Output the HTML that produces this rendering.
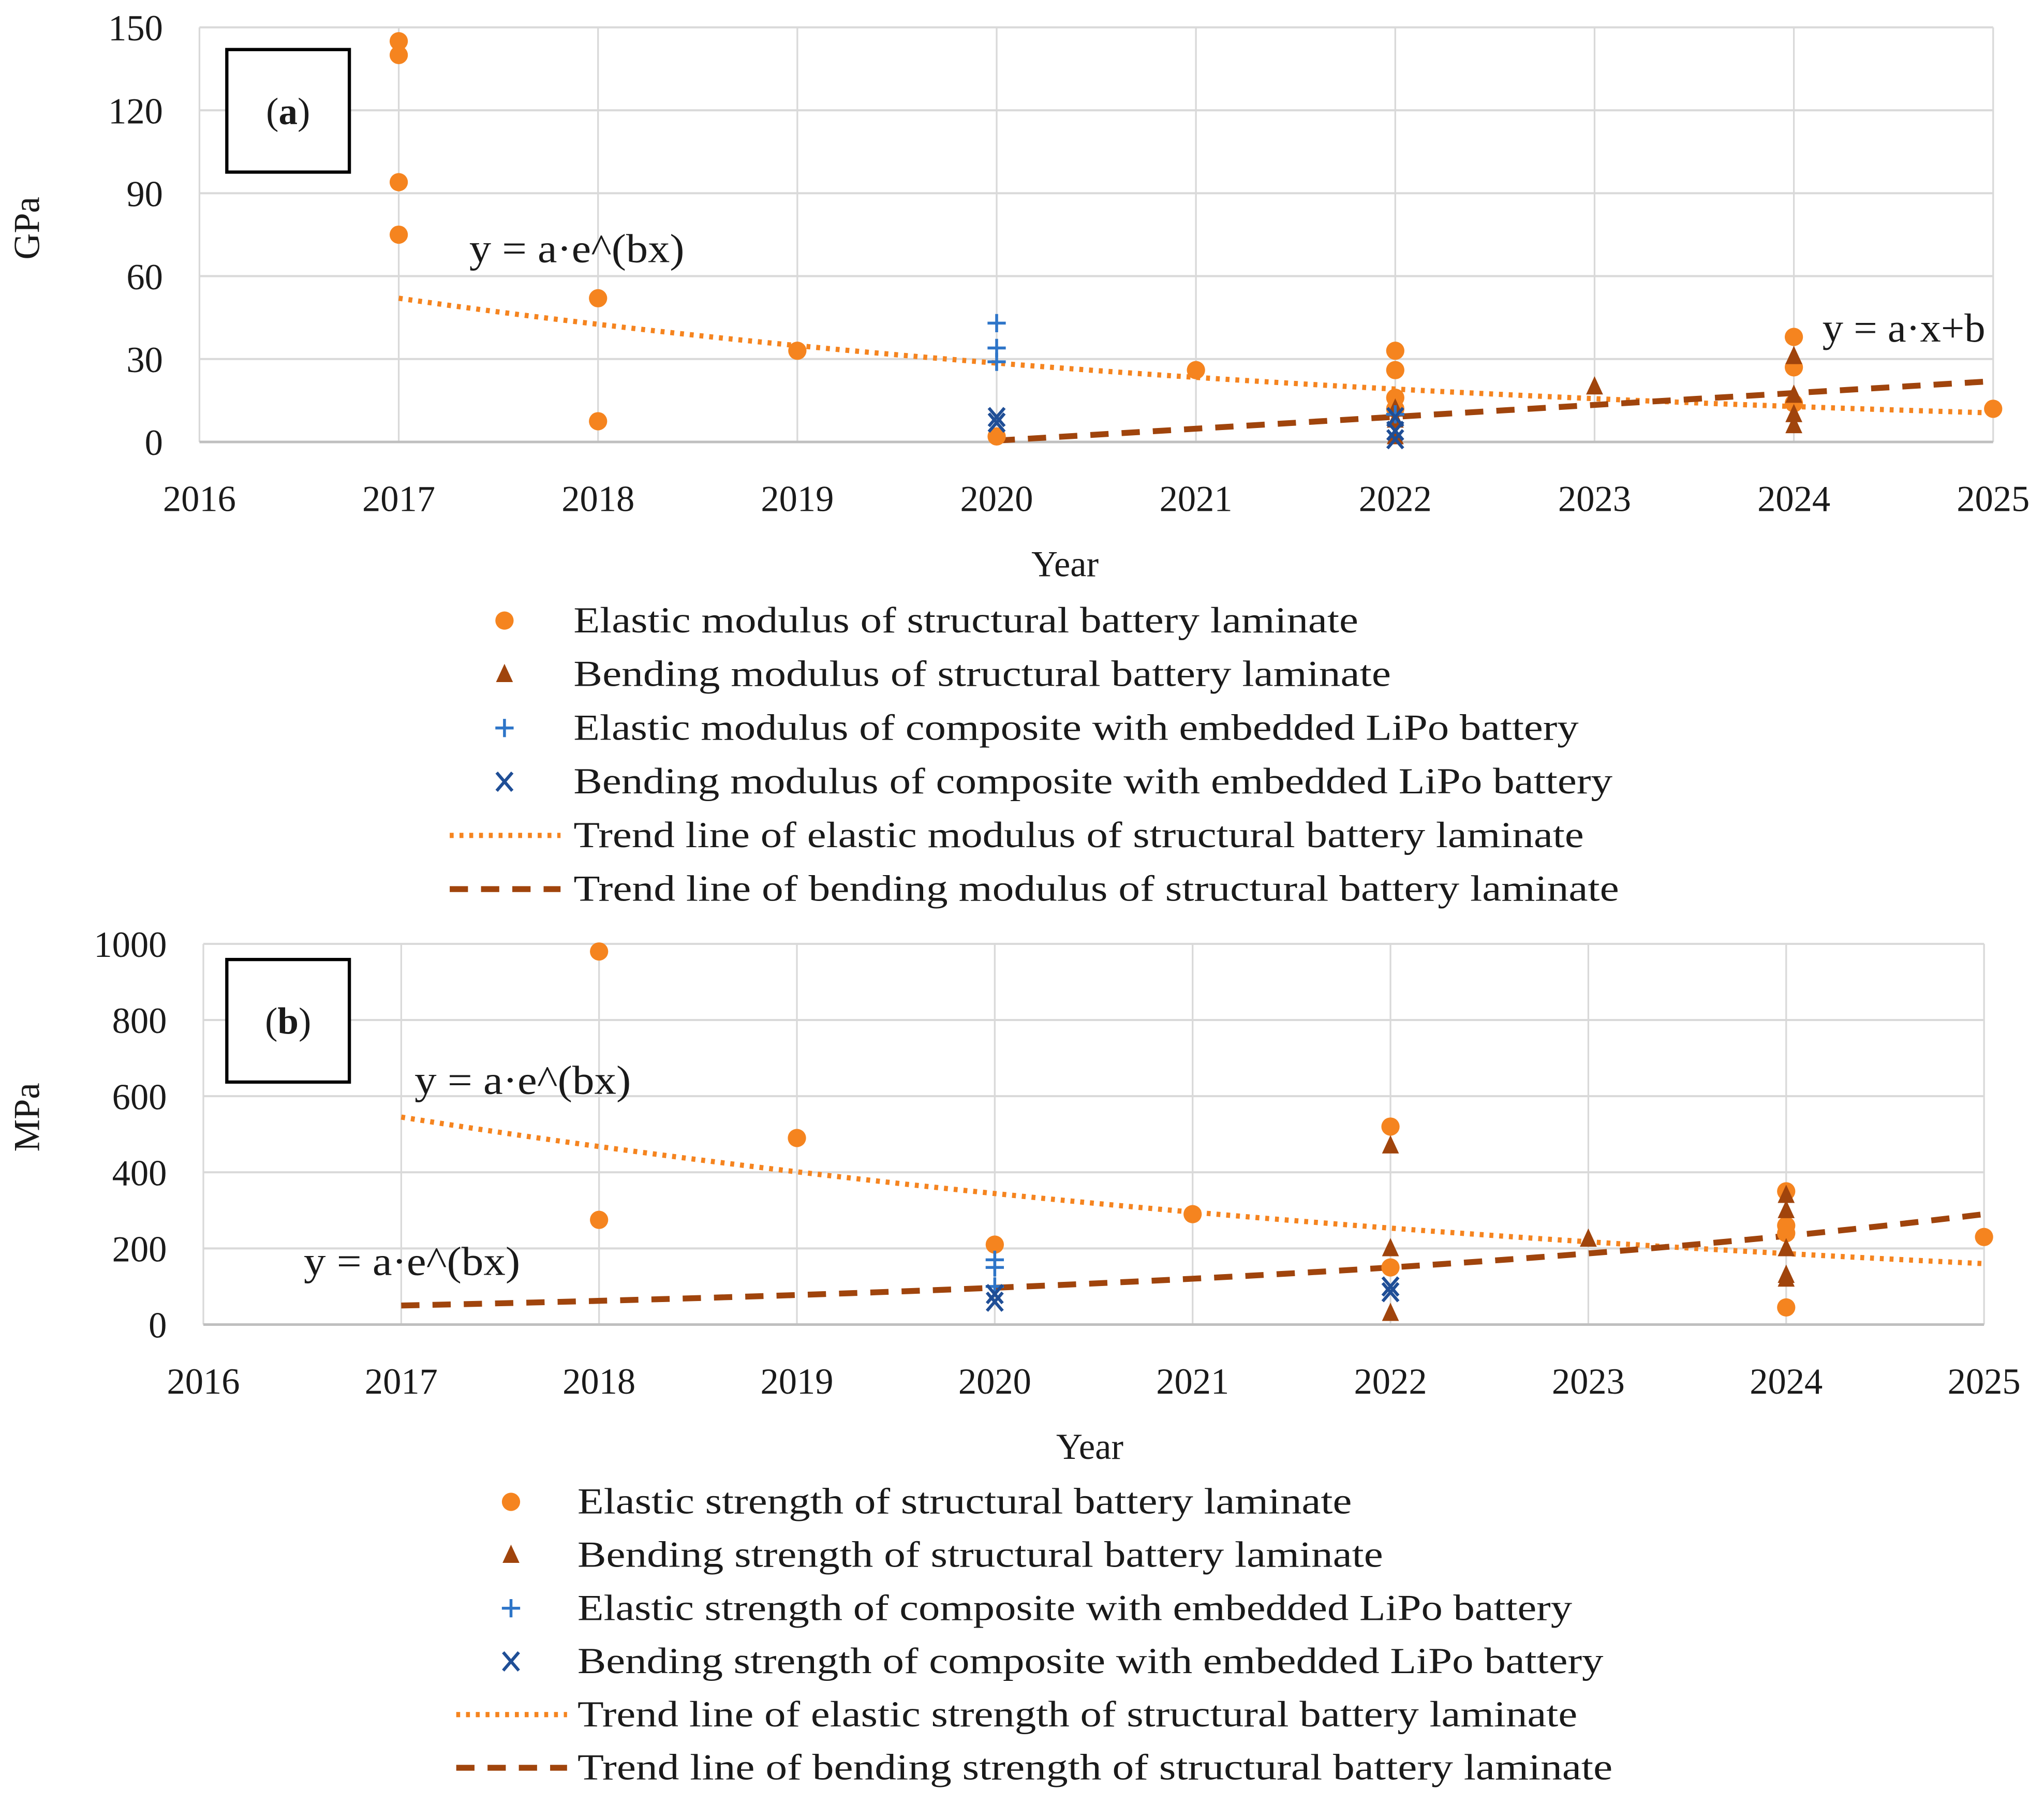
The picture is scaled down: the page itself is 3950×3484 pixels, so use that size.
<!DOCTYPE html>
<html><head><meta charset="utf-8"><style>
html,body{margin:0;padding:0;background:#fff;}
svg{display:block;}
text{font-family:"Liberation Serif",serif;fill:#1a1a1a;}
</style></head><body>
<svg id="fig" width="3950" height="3484" viewBox="0 0 1568 1383" xmlns="http://www.w3.org/2000/svg">
<g id="chartA"></g>
<g id="chartB"></g>
</svg>
<script>
const NS="http://www.w3.org/2000/svg";
const years=[2016,2017,2018,2019,2020,2021,2022,2023,2024,2025];
// Chart (a) data, GPa
const aTicks=[0,30,60,90,120,150];
const aElasticX=[2017,2017,2017,2017,2018,2018,2019,2020,2021,2022,2022,2022,2022,2024,2024,2024,2025];
const aElasticY=[145,140,94,75,52,7.5,33,2,26,33,26,16,12,38,27,14,12];
const aBendX=[2022,2022,2022,2023,2024,2024,2024,2024];
const aBendY=[12,8,2,20,31,17,10,6];
const aPlusX=[2020,2020,2020,2022];
const aPlusY=[43,34,29,10];
const aCrossX=[2020,2020,2022,2022,2022];
const aCrossY=[9,7,9,4,1];
const aTrendE={x0:2017,x1:2025,y0:52,y1:10.5};
const aTrendB={x0:2020,x1:2025,y0:0.5,y1:22};
// Chart (b) data, MPa
const bTicks=[0,200,400,600,800,1000];
const bElasticX=[2018,2018,2019,2020,2021,2022,2022,2024,2024,2024,2024,2025];
const bElasticY=[980,275,490,210,290,520,150,350,260,240,45,230];
const bBendX=[2022,2022,2022,2023,2024,2024,2024,2024,2024];
const bBendY=[470,200,30,225,340,300,200,130,120];
const bPlusX=[2020,2020,2020];
const bPlusY=[170,150,100];
const bCrossX=[2020,2020,2022,2022];
const bCrossY=[80,60,100,85];
const bTrendE={x0:2017,x1:2025,y0:545,y1:160};
const bTrendB={x0:2017,x1:2025,y0:50,y1:290};

const OR="#F5841F",BR="#A0440C",BL="#2E75C8",NV="#1F4E96";
function el(tag,attrs,parent,txt){const e=document.createElementNS(NS,tag);for(const k in attrs)e.setAttribute(k,attrs[k]);if(txt!==undefined)e.textContent=txt;parent.appendChild(e);return e;}
function circle(g,x,y){const c=el('circle',{cx:x,cy:y,r:7,fill:OR},g);}
function tri(g,x,y){const p=el('path',{d:`M${x},${y-8} L${x+6.5},${y+6} L${x-6.5},${y+6}Z`,fill:BR},g);}
function plus(g,x,y){const p=el('path',{d:`M${x-7},${y}H${x+7}M${x},${y-7}V${y+7}`,stroke:BL,'stroke-width':2.2,fill:'none'},g);}
function cross(g,x,y){const p=el('path',{d:`M${x-6},${y-7}L${x+6},${y+7}M${x+6},${y-7}L${x-6},${y+7}`,stroke:NV,'stroke-width':2.4,fill:'none'},g);}

function chart(g,cfg){
  const X=v=>cfg.x0+(v-2016)/9*(cfg.x1-cfg.x0);
  const Y=v=>cfg.yb-(v/cfg.ymax)*(cfg.yb-cfg.yt);
  years.forEach(yr=>{const l=el('line',{x1:X(yr),x2:X(yr),y1:cfg.yt,y2:cfg.yb,stroke:'#d9d9d9','stroke-width':1.3},g);
    const t=el('text',{x:X(yr),y:cfg.yb+53,'text-anchor':'middle','font-size':28},g,String(yr));});
  cfg.ticks.forEach(v=>{const l=el('line',{x1:cfg.x0,x2:cfg.x1,y1:Y(v),y2:Y(v),stroke:v===0?'#bfbfbf':'#d9d9d9','stroke-width':v===0?2:1.6},g);
    const t=el('text',{x:cfg.x0-28,y:Y(v)+10,'text-anchor':'end','font-size':28},g,String(v));});
  const te=cfg.te, n=60; let d='';
  const b=Math.log(te.y1/te.y0)/(te.x1-te.x0);
  for(let i=0;i<=n;i++){const xv=te.x0+(te.x1-te.x0)*i/n;const yv=te.y0*Math.exp(b*(xv-te.x0));d+=(i?'L':'M')+X(xv)+','+Y(yv);}
  const p1=el('path',{d,stroke:OR,'stroke-width':4,fill:'none','stroke-dasharray':'3 4.5'},g);
  const tb=cfg.tb; let d2='';
  if(cfg.bexp){const bb=Math.log(tb.y1/tb.y0)/(tb.x1-tb.x0);for(let i=0;i<=n;i++){const xv=tb.x0+(tb.x1-tb.x0)*i/n;d2+=(i?'L':'M')+X(xv)+','+Y(tb.y0*Math.exp(bb*(xv-tb.x0)));}}
  else d2=`M${X(tb.x0)},${Y(tb.y0)}L${X(tb.x1)},${Y(tb.y1)}`;
  const p2=el('path',{d:d2,stroke:BR,'stroke-width':4.5,fill:'none','stroke-dasharray':'14 10'},g);
  cfg.ex.forEach((x,i)=>circle(g,X(x),Y(cfg.ey[i])));
  cfg.bx.forEach((x,i)=>tri(g,X(x),Y(cfg.by[i])));
  cfg.px.forEach((x,i)=>plus(g,X(x),Y(cfg.py[i])));
  cfg.cx.forEach((x,i)=>cross(g,X(x),Y(cfg.cy[i])));
  const r=el('rect',{x:174,y:cfg.box,width:94,height:94,fill:'#fff',stroke:'#000','stroke-width':2.5},g);
  const pl=el('text',{x:221,y:cfg.box+57,'text-anchor':'middle','font-size':29},g);
  pl.innerHTML='(<tspan font-weight="bold">'+cfg.label+'</tspan>)';
  const xt=el('text',{x:cfg.yearX,y:cfg.yb+103,'text-anchor':'middle','font-size':28},g,'Year');
  const yt=el('text',{x:0,y:0,'text-anchor':'middle','font-size':28,transform:`translate(30,${cfg.ytY}) rotate(-90)`},g,cfg.unit);
  cfg.eqs.forEach(q=>{const t=el('text',{x:q[0],y:q[1],'font-size':31,textLength:q[3],lengthAdjust:'spacingAndGlyphs'},g,q[2]);});
  cfg.legend.forEach((L,i)=>{const y=cfg.ly0+i*cfg.ldy;const mx=cfg.lmx;
    if(i===0)circle(g,mx,y);else if(i===1)tri(g,mx,y);else if(i===2)plus(g,mx,y);else if(i===3)cross(g,mx,y);
    else if(i===4){const l=el('line',{x1:mx-42,x2:mx+43,y1:y,y2:y,stroke:OR,'stroke-width':4,'stroke-dasharray':'3 4.5'},g);}
    else {const l=el('line',{x1:mx-42,x2:mx+43,y1:y,y2:y,stroke:BR,'stroke-width':4.5,'stroke-dasharray':'14 10'},g);}
    const t=el('text',{x:cfg.ltx,y:y+9,'font-size':28,textLength:L[1],lengthAdjust:'spacingAndGlyphs'},g,L[0]);});
}
chart(document.getElementById('chartA'),{x0:153,x1:1529,yt:21,yb:339,ymax:150,ticks:aTicks,te:aTrendE,tb:aTrendB,bexp:false,
 ex:aElasticX,ey:aElasticY,bx:aBendX,by:aBendY,px:aPlusX,py:aPlusY,cx:aCrossX,cy:aCrossY,box:38,label:'a',yearX:817,ytY:175,unit:'GPa',
 eqs:[[360,201,'y = a·e^(bx)',165],[1398,262,'y = a·x+b',125]],ly0:476,ldy:41.2,lmx:387,ltx:440,
 legend:[['Elastic modulus of structural battery laminate',602],['Bending modulus of structural battery laminate',627],['Elastic modulus of composite with embedded LiPo battery',771],['Bending modulus of composite with embedded LiPo battery',797],['Trend line of elastic modulus of structural battery laminate',775],['Trend line of bending modulus of structural battery laminate',802]]});
chart(document.getElementById('chartB'),{x0:156,x1:1522,yt:724,yb:1016,ymax:1000,ticks:bTicks,te:bTrendE,tb:bTrendB,bexp:true,
 ex:bElasticX,ey:bElasticY,bx:bBendX,by:bBendY,px:bPlusX,py:bPlusY,cx:bCrossX,cy:bCrossY,box:736,label:'b',yearX:836,ytY:857,unit:'MPa',
 eqs:[[318,839,'y = a·e^(bx)',166],[233,978,'y = a·e^(bx)',166]],ly0:1152,ldy:40.8,lmx:392,ltx:443,
 legend:[['Elastic strength of structural battery laminate',594],['Bending strength of structural battery laminate',618],['Elastic strength of composite with embedded LiPo battery',763],['Bending strength of composite with embedded LiPo battery',787],['Trend line of elastic strength of structural battery laminate',767],['Trend line of bending strength of structural battery laminate',794]]});
</script>
</body></html>
